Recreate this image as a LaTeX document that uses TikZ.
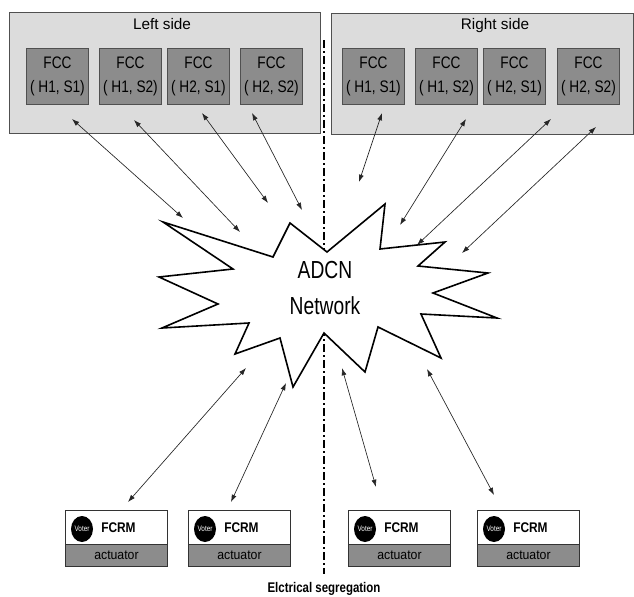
\documentclass[tikz,border=0pt]{standalone}
\usepackage{fontspec}
\setmainfont{Liberation Sans}
\usepackage{graphicx}
\usetikzlibrary{arrows.meta,shapes.geometric}
\definecolor{panelgray}{HTML}{DCDCDC}
\definecolor{boxgray}{HTML}{8C8C8C}
\definecolor{edgegray}{HTML}{505050}
\newcommand{\sq}[2][0.85]{\scalebox{#1}[1]{#2}}
\newcommand{\FccBox}[4]{% name, left x, line1, line2
  \node[fccbox] (#1) at (#2,48) {\sq[0.82]{#3}\\\sq[0.82]{#4}};}
\newcommand{\FcrmUnit}[2]{% name, left x
  \node[fcrmtop] (#1) at (#2,510) {};
  \node[actbox] (#1act) at (#2,544) {\sq[0.92]{actuator}};
  \node[voter] (#1voter) at (#2+17,529) {\sq[0.8]{Voter}};
  \node[fcrmlbl] (#1lbl) at (#2+36,532.5) {\sq[0.85]{FCRM}};}
\begin{document}
\begin{tikzpicture}[x=0.75pt,y=-0.75pt,
  panel/.style={draw=edgegray, fill=panelgray, line width=0.8pt, anchor=north west, inner sep=0pt, minimum height=90.75pt},
  paneltitle/.style={anchor=base, font=\fontsize{11.5}{13}\selectfont},
  fccbox/.style={draw=edgegray, fill=boxgray, line width=0.7pt, minimum width=46.5pt, minimum height=42pt, inner sep=0pt, anchor=north west, align=center, font=\fontsize{12.5}{18.5}\selectfont},
  link/.style={{Latex[length=5.5pt,width=3.8pt]}-{Latex[length=5.5pt,width=3.8pt]}, line width=0.5pt, draw=black!85},
  star/.style={draw=black, fill=white, line width=1.2pt, line join=miter},
  fcrmtop/.style={draw=black!80, fill=white, line width=0.7pt, anchor=north west, minimum width=76.5pt, minimum height=25.5pt, inner sep=0pt},
  actbox/.style={draw=black!80, fill=boxgray, line width=0.7pt, anchor=north west, minimum width=76.5pt, minimum height=16.5pt, inner sep=0pt, font=\fontsize{10}{11}\selectfont},
  voter/.style={ellipse, fill=black, minimum width=16.5pt, minimum height=19.5pt, inner sep=0pt, text=white, font=\fontsize{6}{7}\selectfont},
  fcrmlbl/.style={anchor=base west, inner sep=0pt, font=\fontsize{10.5}{12}\bfseries\selectfont},
  segline/.style={line width=0.9pt, dash pattern=on 6pt off 2.5pt on 1pt off 2.5pt}
]
\useasboundingbox (0,0) rectangle (634,596);

% panels
\node[panel, minimum width=233.25pt] (leftpanel) at (9,12) {};
\node[panel, minimum width=226.5pt] (rightpanel) at (331,13) {};
\node[paneltitle] (lefttitle) at (162,29.5) {Left side};
\node[paneltitle] (righttitle) at (495,29.5) {Right side};

% FCC boxes
\FccBox{L1}{26}{FCC}{( H1, S1)}
\FccBox{L2}{99}{FCC}{( H1, S2)}
\FccBox{L3}{167}{FCC}{( H2, S1)}
\FccBox{L4}{240}{FCC}{( H2, S2)}
\FccBox{R1}{342}{FCC}{( H1, S1)}
\FccBox{R2}{415}{FCC}{( H1, S2)}
\FccBox{R3}{483}{FCC}{( H2, S1)}
\FccBox{R4}{557}{FCC}{( H2, S2)}

% segregation line
\coordinate (segtop) at (324,40);
\coordinate (segbot) at (324,574);
\draw[segline] (segtop) -- (segbot);

% ADCN star
\draw[star] (163,222) -- (273,257) -- (290,223) -- (327,252) -- (385,204) -- (380,249)
  -- (445,242) -- (418,266) -- (488,273) -- (433,293) -- (497,318) -- (421,314)
  -- (441,358) -- (378,327) -- (365,372) -- (324,333) -- (293,387) -- (280,338)
  -- (235,354) -- (249,323) -- (162,328) -- (218,304) -- (159,277) -- (233,269) -- cycle;
\node[align=center, font=\fontsize{18.5}{27}\selectfont] (adcn) at (325,288) {\sq[0.78]{ADCN}\\\sq[0.78]{Network}};

% FCRM units
\FcrmUnit{A1}{65}
\FcrmUnit{A2}{188}
\FcrmUnit{A3}{348}
\FcrmUnit{A4}{477}

% arrow end points
\coordinate (tl1) at (72,119);  \coordinate (nl1) at (183,218);
\coordinate (tl2) at (134,120); \coordinate (nl2) at (240,232);
\coordinate (tl3) at (202,113); \coordinate (nl3) at (268,203);
\coordinate (tl4) at (252,113); \coordinate (nl4) at (302,210);
\coordinate (tr1) at (382,113); \coordinate (nr1) at (359,182);
\coordinate (tr2) at (466,119); \coordinate (nr2) at (400,225);
\coordinate (tr3) at (551,119); \coordinate (nr3) at (417,245);
\coordinate (tr4) at (596,127); \coordinate (nr4) at (462,253);
\coordinate (sb1) at (246,368); \coordinate (ab1) at (128,502);
\coordinate (sb2) at (286,383); \coordinate (ab2) at (231,502);
\coordinate (sb3) at (342,368); \coordinate (ab3) at (376,487);
\coordinate (sb4) at (427,369); \coordinate (ab4) at (494,495);

\foreach \i in {1,...,4} {
  \draw[link] (tl\i) -- (nl\i);
  \draw[link] (tr\i) -- (nr\i);
  \draw[link] (sb\i) -- (ab\i);
}

% caption
\node[font=\fontsize{10.5}{12}\bfseries\selectfont] (seglabel) at (324,589) {\sq[0.82]{Elctrical segregation}};
\end{tikzpicture}
\end{document}
